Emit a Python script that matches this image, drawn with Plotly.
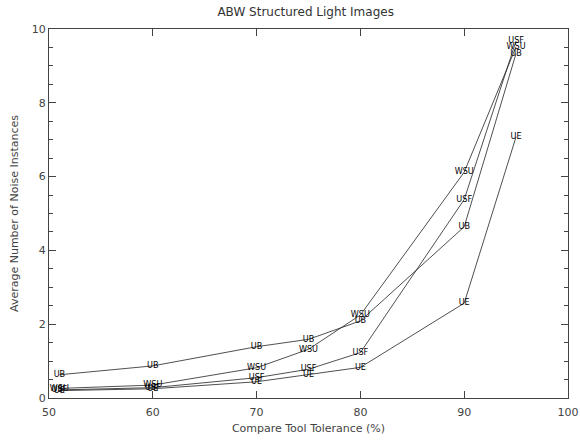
import plotly.graph_objects as go

x_vals = [51, 60, 70, 75, 80, 90, 95]
ub = [0.63, 0.87, 1.39, 1.59, 2.09, 4.64, 9.34]
wsu = [0.26, 0.35, 0.82, 1.32, 2.25, 6.12, 9.52]
usf = [0.22, 0.28, 0.55, 0.78, 1.23, 5.38, 9.68]
ue = [0.20, 0.25, 0.44, 0.64, 0.83, 2.57, 7.08]

series = [("UB", ub), ("WSU", wsu), ("USF", usf), ("UE", ue)]

x_ticks = [50, 60, 70, 80, 90, 100]
y_ticks = [0, 2, 4, 6, 8, 10]

fig = go.Figure()
for name, vals in series:
    fig.add_trace(go.Scatter(
        x=x_vals, y=vals, mode="lines+text",
        text=[name] * len(x_vals), textposition="middle center",
        textfont=dict(family="DejaVu Sans Condensed", size=9, color="#000"),
        line=dict(color="#222", width=0.8), name=name, showlegend=False,
        cliponaxis=False,
    ))

fnt = dict(family="DejaVu Sans", size=11, color="#444")
fig.update_layout(
    width=580, height=440,
    margin=dict(l=49, r=12, t=29, b=42),
    paper_bgcolor="white", plot_bgcolor="white",
    title=dict(text="ABW Structured Light Images", x=0.527, xanchor="center",
               y=0.973, yanchor="middle", font=dict(family="DejaVu Sans", size=12, color="#333")),
    font=fnt,
)
fig.update_xaxes(
    range=[50, 100], tickvals=x_ticks, ticktext=[str(v) for v in x_ticks],
    showgrid=False, zeroline=False, showline=True, linecolor="#444", linewidth=1,
    mirror="ticks", ticks="inside", ticklen=7, tickcolor="#444", automargin=False,
    ticklabelstandoff=4,
    title=dict(text="Compare Tool Tolerance (%)", font=fnt, standoff=6),
    tickfont=fnt,
)
fig.update_yaxes(
    range=[0, 10], tickvals=y_ticks, ticktext=[str(v) for v in y_ticks],
    showgrid=False, zeroline=False, showline=True, linecolor="#444", linewidth=1,
    mirror="ticks", ticks="inside", ticklen=7, tickcolor="#444", automargin=False,
    minor=dict(dtick=0.5, ticks="inside", ticklen=4, tickcolor="#444", showgrid=False),
    title=dict(text="Average Number of Noise Instances", font=fnt, standoff=10),
    tickfont=fnt,
)
fig.write_html("out.html", config={"displayModeBar": False},
               post_script="document.body.style.margin='0';")
